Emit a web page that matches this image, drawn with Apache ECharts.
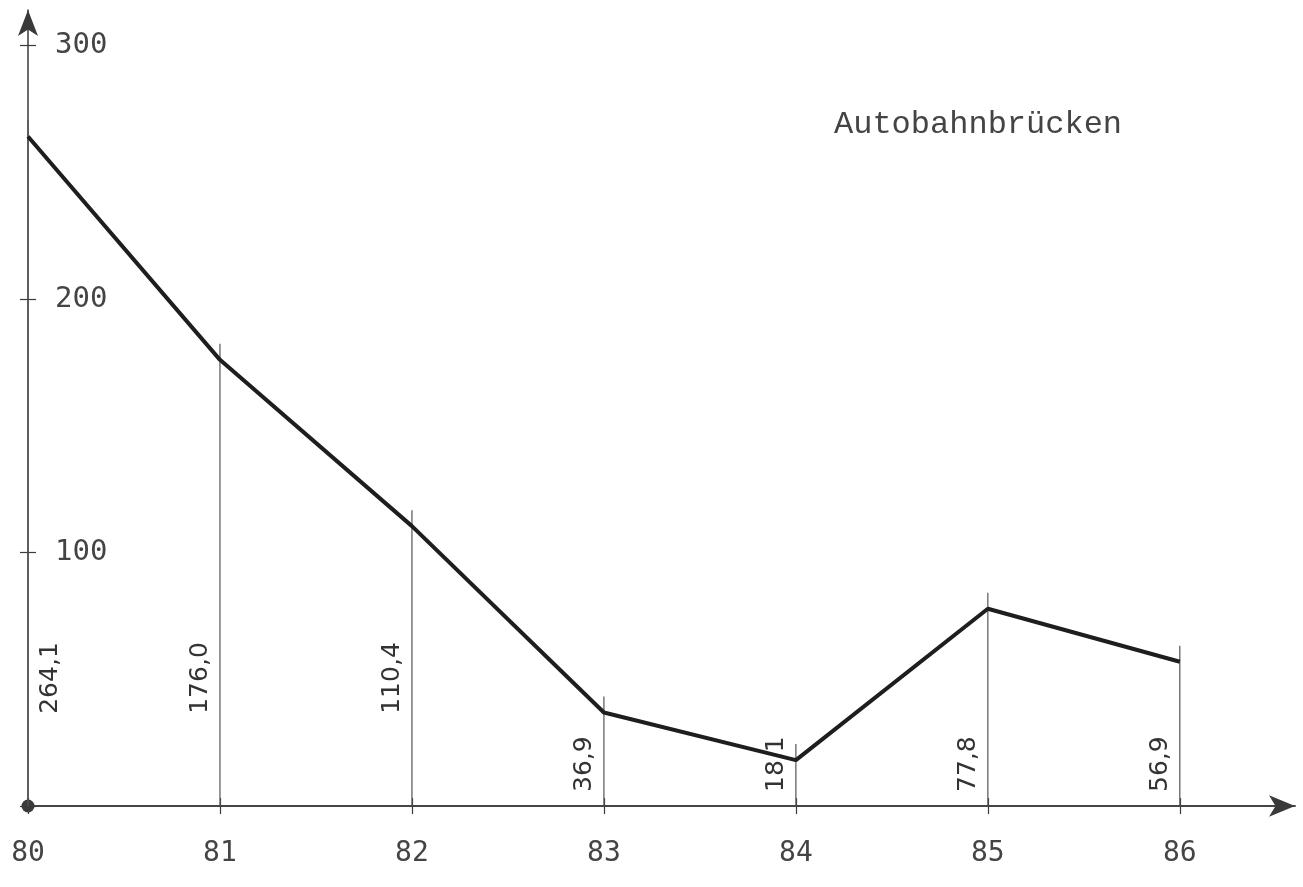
<!DOCTYPE html>
<html>
<head>
<meta charset="utf-8">
<script src="https://cdn.jsdelivr.net/npm/echarts@6/dist/echarts.min.js"></script>
<style>
  html, body { margin: 0; padding: 0; background: #fff; }
  #chart { width: 1303px; height: 887px; }
</style>
</head>
<body>
<div id="chart"></div>
<script>
// ── Data ────────────────────────────────────────────────────────────────
const years       = [80, 81, 82, 83, 84, 85, 86];
const values      = [264.1, 176.0, 110.4, 36.9, 18.1, 77.8, 56.9];
const valueLabels = ['264,1', '176,0', '110,4', '36,9', '18,1', '77,8', '56,9'];
const yTicks      = [0, 100, 200, 300];
const yTickLabels = [100, 200, 300];
const chartTitle  = 'Autobahnbrücken';

// ── Style ───────────────────────────────────────────────────────────────
const axisColor  = '#3a3a3a';
const textColor  = '#444';
const lineColor  = '#1e1e1e';
const dropColor  = '#555';
const monoFont   = 'DejaVu Sans Mono';

const chart = echarts.init(document.getElementById('chart'), null, { renderer: 'canvas' });

const tickStyle = { color: axisColor, width: 1.2 };

chart.setOption({
  animation: false,
  backgroundColor: '#fff',
  title: {
    text: chartTitle, left: 829, top: 104,
    textStyle: { fontFamily: 'Liberation Mono', fontSize: 32, fontWeight: 'normal', color: textColor },
  },
  grid: { left: 28, right: 8, top: 10, bottom: 81 },
  xAxis: [
    {
      type: 'value', position: 'bottom', min: 80, max: 86.6, interval: 1,
      axisLine: { symbol: ['none', 'arrow'], symbolSize: [16, 26],
                  lineStyle: { color: axisColor, width: 1.5 } },
      axisTick: { length: 8, customValues: years, lineStyle: tickStyle },
      axisLabel: { margin: 34, customValues: years, formatter: v => String(v),
                   fontFamily: monoFont, fontSize: 28, color: textColor },
      splitLine: { show: false },
    },
    {
      type: 'value', position: 'bottom', min: 80, max: 86.6, interval: 1,
      axisLine: { symbol: ['circle', 'none'], symbolSize: [13, 13],
                  lineStyle: { color: axisColor, width: 1.5 } },
      axisTick: { inside: true, length: 8, customValues: years, lineStyle: tickStyle },
      axisLabel: { show: false },
      splitLine: { show: false },
    },
  ],
  yAxis: [
    {
      type: 'value', position: 'left', min: 0, max: 314, interval: 100,
      axisLine: { show: true, symbol: ['none', 'arrow'], symbolSize: [15, 26],
                  lineStyle: { color: axisColor, width: 1.5 } },
      axisTick: { show: true, length: 8, customValues: yTicks, lineStyle: tickStyle },
      axisLabel: { inside: true, margin: 27, customValues: yTickLabels, formatter: v => String(v),
                   fontFamily: monoFont, fontSize: 29, color: textColor },
      splitLine: { show: false },
    },
    {
      type: 'value', position: 'left', min: 0, max: 314, interval: 100,
      axisLine: { show: false },
      axisTick: { show: true, inside: true, length: 8, customValues: yTicks, lineStyle: tickStyle },
      axisLabel: { show: false },
      splitLine: { show: false },
    },
  ],
  series: [
    {
      // vertical drop lines with rotated value labels
      type: 'custom', xAxisIndex: 0, yAxisIndex: 0, z: 2,
      data: years.map((y, i) => [y, values[i], i]),
      renderItem: (params, api) => {
        const x = api.value(0), v = api.value(1), i = api.value(2);
        const top = api.coord([x, v]);
        const base = api.coord([x, 0]);
        const high = v >= 100;
        return {
          type: 'group',
          children: [
            { type: 'line',
              shape: { x1: base[0], y1: base[1], x2: top[0], y2: top[1] - 16 },
              style: { stroke: dropColor, lineWidth: 1.2 } },
            { type: 'text',
              x: base[0] + (i === 0 ? 22 : -19),
              y: high ? base[1] - 128 : base[1] - 14,
              rotation: Math.PI / 2,
              style: { text: valueLabels[i], fill: '#333',
                       font: '25px "DejaVu Sans"',
                       align: high ? 'center' : 'left', verticalAlign: 'middle' } },
          ],
        };
      },
    },
    {
      type: 'line', xAxisIndex: 0, yAxisIndex: 0, z: 3,
      data: years.map((y, i) => [y, values[i]]),
      symbol: 'none',
      lineStyle: { color: lineColor, width: 4 },
    },
  ],
});
</script>
</body>
</html>
